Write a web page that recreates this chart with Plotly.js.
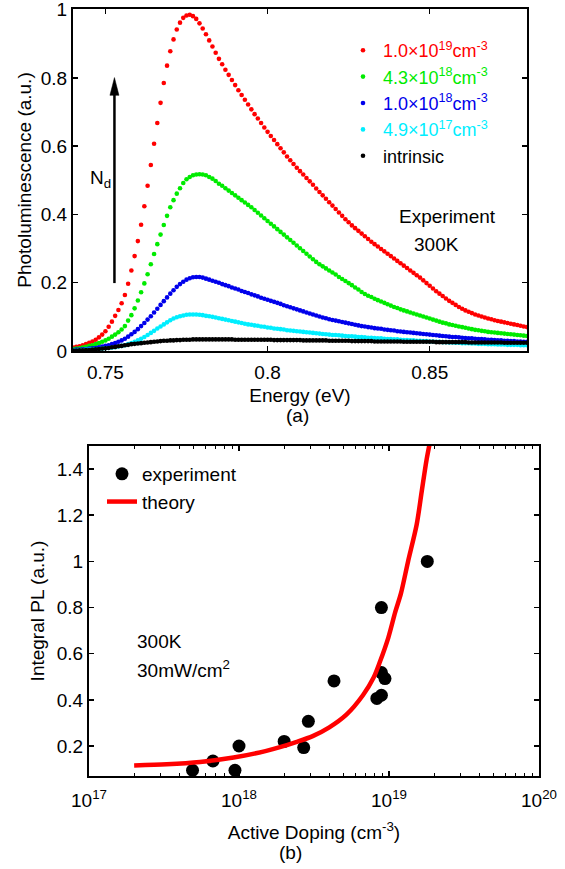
<!DOCTYPE html>
<html>
<head>
<meta charset="utf-8">
<script src="https://cdn.plot.ly/plotly-3.0.1.min.js"></script>
<style>html,body{margin:0;padding:0;background:#fff;}#chart{width:565px;height:869px;}</style>
</head>
<body>
<div id="chart"></div>
<script>
// ---------- Panel (a): PL spectra ----------
const energy = [
0.740,0.741,0.742,0.743,0.744,0.745,0.746,0.747,0.748,0.749,
0.750,0.751,0.752,0.753,0.754,0.755,0.756,0.757,0.758,0.759,
0.760,0.761,0.762,0.763,0.764,0.765,0.766,0.767,0.768,0.769,
0.770,0.771,0.772,0.773,0.774,0.775,0.776,0.777,0.778,0.779,
0.780,0.781,0.782,0.783,0.784,0.785,0.786,0.787,0.788,0.789,
0.790,0.791,0.792,0.793,0.794,0.795,0.796,0.797,0.798,0.799,
0.800,0.801,0.802,0.803,0.804,0.805,0.806,0.807,0.808,0.809,
0.810,0.811,0.812,0.813,0.814,0.815,0.816,0.817,0.818,0.819,
0.820,0.821,0.822,0.823,0.824,0.825,0.826,0.827,0.828,0.829,
0.830,0.831,0.832,0.833,0.834,0.835,0.836,0.837,0.838,0.839,
0.840,0.841,0.842,0.843,0.844,0.845,0.846,0.847,0.848,0.849,
0.850,0.851,0.852,0.853,0.854,0.855,0.856,0.857,0.858,0.859,
0.860,0.861,0.862,0.863,0.864,0.865,0.866,0.867,0.868,0.869,
0.870,0.871,0.872,0.873,0.874,0.875,0.876,0.877,0.878,0.879,
0.880];

const pl_1e19 = [
0.010,0.012,0.014,0.017,0.020,0.024,0.028,0.033,0.040,0.048,
0.058,0.071,0.086,0.103,0.120,0.140,0.164,0.197,0.236,0.278,
0.322,0.370,0.424,0.484,0.545,0.607,0.668,0.727,0.785,0.836,
0.878,0.913,0.942,0.962,0.976,0.983,0.985,0.981,0.973,0.960,
0.945,0.928,0.910,0.892,0.874,0.856,0.840,0.824,0.809,0.794,
0.779,0.764,0.750,0.736,0.722,0.708,0.694,0.681,0.668,0.655,
0.642,0.630,0.618,0.606,0.594,0.582,0.570,0.559,0.548,0.537,
0.527,0.517,0.507,0.497,0.487,0.476,0.466,0.456,0.446,0.436,
0.426,0.416,0.406,0.396,0.386,0.377,0.368,0.360,0.352,0.344,
0.336,0.328,0.320,0.313,0.306,0.299,0.292,0.285,0.278,0.271,
0.264,0.257,0.250,0.243,0.236,0.229,0.222,0.215,0.207,0.199,
0.191,0.183,0.175,0.168,0.161,0.154,0.147,0.141,0.135,0.129,
0.124,0.119,0.115,0.111,0.107,0.104,0.101,0.098,0.095,0.093,
0.090,0.088,0.086,0.084,0.082,0.080,0.078,0.076,0.074,0.072,
0.070];

const pl_4p3e18 = [
0.006,0.007,0.008,0.010,0.012,0.015,0.017,0.020,0.023,0.027,
0.031,0.036,0.042,0.048,0.055,0.063,0.073,0.089,0.105,0.125,
0.148,0.172,0.198,0.225,0.254,0.284,0.313,0.341,0.369,0.396,
0.421,0.442,0.461,0.477,0.492,0.503,0.510,0.515,0.517,0.518,
0.517,0.515,0.510,0.505,0.498,0.490,0.484,0.477,0.470,0.463,
0.456,0.449,0.442,0.435,0.428,0.421,0.413,0.405,0.397,0.389,
0.381,0.373,0.365,0.357,0.349,0.341,0.333,0.325,0.317,0.309,
0.301,0.293,0.285,0.277,0.269,0.261,0.254,0.248,0.242,0.236,
0.230,0.224,0.217,0.211,0.205,0.199,0.193,0.186,0.180,0.173,
0.167,0.162,0.158,0.153,0.149,0.145,0.141,0.137,0.133,0.129,
0.126,0.122,0.119,0.116,0.113,0.110,0.107,0.104,0.101,0.098,
0.095,0.092,0.089,0.086,0.083,0.081,0.078,0.076,0.074,0.072,
0.070,0.068,0.066,0.064,0.062,0.061,0.059,0.058,0.056,0.055,
0.054,0.053,0.052,0.051,0.050,0.049,0.048,0.047,0.046,0.045,
0.044];

const pl_1e18 = [
0.003,0.004,0.004,0.005,0.006,0.007,0.008,0.009,0.011,0.013,
0.015,0.017,0.020,0.023,0.027,0.031,0.036,0.042,0.049,0.056,
0.064,0.073,0.082,0.092,0.102,0.113,0.124,0.135,0.146,0.157,
0.168,0.178,0.188,0.196,0.203,0.209,0.213,0.216,0.217,0.217,
0.215,0.212,0.209,0.206,0.203,0.200,0.196,0.193,0.190,0.186,
0.183,0.180,0.176,0.173,0.170,0.166,0.163,0.160,0.156,0.153,
0.150,0.147,0.144,0.141,0.138,0.134,0.131,0.128,0.125,0.122,
0.119,0.116,0.113,0.110,0.107,0.104,0.101,0.098,0.096,0.093,
0.091,0.089,0.087,0.085,0.083,0.081,0.079,0.077,0.075,0.073,
0.072,0.070,0.069,0.067,0.066,0.065,0.063,0.062,0.061,0.060,
0.058,0.057,0.056,0.055,0.054,0.053,0.052,0.051,0.050,0.049,
0.048,0.047,0.046,0.045,0.044,0.043,0.042,0.041,0.041,0.040,
0.039,0.038,0.037,0.037,0.036,0.035,0.035,0.034,0.033,0.033,
0.032,0.031,0.031,0.030,0.030,0.029,0.029,0.028,0.028,0.027,
0.027];

const pl_4p9e17 = [
0.002,0.002,0.003,0.003,0.004,0.004,0.005,0.005,0.006,0.007,
0.008,0.009,0.010,0.011,0.013,0.015,0.017,0.020,0.023,0.027,
0.031,0.036,0.041,0.047,0.053,0.059,0.066,0.072,0.078,0.084,
0.090,0.095,0.099,0.102,0.104,0.106,0.107,0.107,0.107,0.106,
0.105,0.103,0.102,0.100,0.098,0.096,0.094,0.092,0.090,0.088,
0.086,0.084,0.082,0.080,0.078,0.077,0.075,0.074,0.072,0.071,
0.069,0.068,0.066,0.065,0.064,0.063,0.061,0.060,0.059,0.058,
0.057,0.056,0.055,0.054,0.053,0.052,0.051,0.050,0.049,0.048,
0.047,0.047,0.046,0.045,0.044,0.043,0.043,0.042,0.041,0.041,
0.040,0.039,0.039,0.038,0.037,0.037,0.036,0.035,0.035,0.034,
0.034,0.033,0.032,0.032,0.031,0.031,0.030,0.030,0.029,0.029,
0.028,0.028,0.027,0.027,0.026,0.026,0.025,0.025,0.024,0.024,
0.023,0.023,0.023,0.022,0.022,0.021,0.021,0.021,0.020,0.020,
0.020,0.019,0.019,0.019,0.018,0.018,0.018,0.018,0.017,0.017,
0.017];

const pl_intrinsic = [
0.001,0.001,0.002,0.002,0.003,0.003,0.004,0.005,0.006,0.007,
0.008,0.009,0.011,0.012,0.014,0.015,0.017,0.018,0.020,0.021,
0.022,0.023,0.024,0.025,0.026,0.027,0.028,0.029,0.030,0.030,
0.031,0.031,0.032,0.032,0.033,0.033,0.033,0.034,0.034,0.034,
0.034,0.034,0.034,0.034,0.034,0.034,0.034,0.034,0.034,0.034,
0.033,0.033,0.033,0.033,0.033,0.033,0.033,0.033,0.033,0.033,
0.033,0.033,0.032,0.032,0.032,0.032,0.032,0.032,0.032,0.032,
0.032,0.031,0.031,0.031,0.031,0.031,0.031,0.031,0.031,0.030,
0.030,0.030,0.030,0.030,0.030,0.030,0.029,0.029,0.029,0.029,
0.029,0.029,0.029,0.028,0.028,0.028,0.028,0.028,0.028,0.028,
0.028,0.028,0.027,0.027,0.027,0.027,0.027,0.027,0.027,0.027,
0.027,0.027,0.026,0.026,0.026,0.026,0.026,0.026,0.026,0.026,
0.026,0.026,0.025,0.025,0.025,0.025,0.025,0.025,0.025,0.025,
0.025,0.025,0.025,0.024,0.024,0.024,0.024,0.024,0.024,0.024,
0.024];

const seriesNames = [
  '1.0×10<sup>19</sup>cm<sup>-3</sup>',
  '4.3×10<sup>18</sup>cm<sup>-3</sup>',
  '1.0×10<sup>18</sup>cm<sup>-3</sup>',
  '4.9×10<sup>17</sup>cm<sup>-3</sup>',
  'intrinsic'
];
const seriesColors = ['rgb(255,0,0)','rgb(0,235,0)','rgb(0,0,235)','rgb(0,238,255)','rgb(0,0,0)'];
const seriesValues = [pl_1e19, pl_4p3e18, pl_1e18, pl_4p9e17, pl_intrinsic];

const energyTicks = [0.75, 0.8, 0.85];
const energyTickText = ['0.75', '0.8', '0.85'];
const plTicks = [0, 0.2, 0.4, 0.6, 0.8, 1];
const plTickText = ['0', '0.2', '0.4', '0.6', '0.8', '1'];

// ---------- Panel (b): integral PL vs doping ----------
const expDoping = [4.9e17, 6.7e17, 9.4e17, 1.0e18, 2.0e18, 2.7e18, 2.9e18, 4.3e18, 8.3e18, 8.9e18, 8.9e18, 9.4e18, 8.9e18, 1.8e19];
const expPL     = [0.095,  0.135,  0.095,  0.200,  0.220,  0.193,  0.307,  0.482,  0.406,  0.420,  0.518,  0.492,  0.800,  1.000];

const theoryDoping = [2.0e17, 3.3e17, 5.5e17, 9.2e17, 1.5e18, 1.9e18, 2.4e18, 3.1e18, 4.0e18, 5.2e18, 6.7e18, 7.9e18, 8.7e18, 9.9e18, 1.1e19, 1.2e19, 1.34e19, 1.53e19, 1.65e19, 1.78e19, 1.88e19];
const theoryPL     = [0.116,  0.121,  0.131,  0.150,  0.178,  0.196,  0.217,  0.243,  0.281,  0.336,  0.420,  0.497,  0.565,  0.670,  0.780,  0.860,  1.000,  1.160,  1.300,  1.440,  1.520];

const dopingTicks = [1e17, 1e18, 1e19, 1e20];
const dopingTickText = ['10<sup>17</sup>', '10<sup>18</sup>', '10<sup>19</sup>', '10<sup>20</sup>'];
const dopingMinorTicks = [2e17,3e17,4e17,5e17,6e17,7e17,8e17,9e17,2e18,3e18,4e18,5e18,6e18,7e18,8e18,9e18,2e19,3e19,4e19,5e19,6e19,7e19,8e19,9e19];
const intTicks = [0.2, 0.4, 0.6, 0.8, 1, 1.2, 1.4];
const intTickText = ['0.2', '0.4', '0.6', '0.8', '1', '1.2', '1.4'];

// ---------- build ----------
const W = 565, H = 869;
const px = v => v / W;
const py = v => 1 - v / H;
const FONT = 'Liberation Sans, Arial, Helvetica, sans-serif';

const traces = [];
seriesValues.forEach((vals, i) => {
  traces.push({
    type: 'scatter', mode: 'markers', x: energy, y: vals,
    xaxis: 'x', yaxis: 'y', legend: 'legend',
    name: '<span style="color:' + seriesColors[i] + '">' + seriesNames[i] + '</span>',
    marker: {size: 4.6, color: seriesColors[i]},
    cliponaxis: true
  });
});
traces.push({
  type: 'scatter', mode: 'markers', x: expDoping, y: expPL,
  xaxis: 'x2', yaxis: 'y2', legend: 'legend2', name: 'experiment',
  marker: {size: 13, color: 'black'}
});
traces.push({
  type: 'scatter', mode: 'lines', x: theoryDoping, y: theoryPL,
  xaxis: 'x2', yaxis: 'y2', legend: 'legend2', name: 'theory',
  line: {color: 'rgb(255,0,0)', width: 4.5, shape: 'spline', smoothing: 0.8}
});

const axisCommon = {
  showline: true, linecolor: 'black', linewidth: 2, mirror: 'ticks',
  ticks: 'inside', ticklen: 5, tickwidth: 1.5, tickcolor: 'black',
  showgrid: false, zeroline: false, automargin: false,
  ticklabeloverflow: 'allow',
  tickfont: {family: FONT, size: 19, color: 'black'}
};

const layout = {
  width: W, height: H,
  margin: {l: 0, r: 0, t: 0, b: 0},
  paper_bgcolor: 'white', plot_bgcolor: 'white',
  font: {family: FONT, size: 19, color: 'black'},
  xaxis: Object.assign({}, axisCommon, {
    domain: [px(73), px(527)], anchor: 'y', range: [0.74, 0.88],
    tickmode: 'array', tickvals: energyTicks, ticktext: energyTickText,
    ticklabelstandoff: 3,
    title: {text: 'Energy (eV)', font: {family: FONT, size: 19}, standoff: 7}
  }),
  yaxis: Object.assign({}, axisCommon, {
    domain: [py(351), py(9)], anchor: 'x', range: [0, 1.002],
    tickmode: 'array', tickvals: plTicks, ticktext: plTickText,
    title: {text: 'Photoluminescence (a.u.)', font: {family: FONT, size: 19}, standoff: 4}
  }),
  xaxis2: Object.assign({}, axisCommon, {
    domain: [px(89), px(539)], anchor: 'y2', type: 'log', range: [17, 20],
    tickmode: 'array', tickvals: dopingTicks, ticktext: dopingTickText,
    ticklabelstandoff: 6,
    minor: {ticks: 'inside', ticklen: 3, tickwidth: 1, tickcolor: 'black',
            tickmode: 'array', tickvals: dopingMinorTicks, showgrid: false},
    title: {text: 'Active Doping (cm<sup>-3</sup>)', font: {family: FONT, size: 19}, standoff: 16}
  }),
  yaxis2: Object.assign({}, axisCommon, {
    domain: [py(776), py(446)], anchor: 'x2', range: [0.07, 1.5],
    tickmode: 'array', tickvals: intTicks, ticktext: intTickText,
    title: {text: 'Integral PL (a.u.)', font: {family: FONT, size: 19}, standoff: 7}
  }),
  showlegend: true,
  legend: {
    x: px(343), y: py(32), xanchor: 'left', yanchor: 'top',
    bgcolor: 'rgba(0,0,0,0)', borderwidth: 0,
    font: {family: FONT, size: 18}, tracegroupgap: 0
  },
  legend2: {
    x: px(102), y: py(455), xanchor: 'left', yanchor: 'top',
    bgcolor: 'rgba(0,0,0,0)', borderwidth: 0,
    font: {family: FONT, size: 19}
  },
  shapes: [
    {type: 'line', xref: 'x', yref: 'y', x0: 0.75278, x1: 0.75278, y0: 0.199, y1: 0.76,
     line: {color: 'black', width: 2.5}},
    {type: 'path', xref: 'x', yref: 'y',
     path: 'M 0.75139 0.749 L 0.75278 0.801 L 0.75417 0.749 Z',
     fillcolor: 'black', line: {color: 'black', width: 0.5}}
  ],
  annotations: [
    {xref: 'paper', yref: 'paper', x: px(100), y: py(179), xanchor: 'center', yanchor: 'middle',
     text: 'N<sub>d</sub>', showarrow: false, font: {family: FONT, size: 19}},
    {xref: 'paper', yref: 'paper', x: px(447), y: py(217), xanchor: 'center', yanchor: 'middle',
     text: 'Experiment', showarrow: false, font: {family: FONT, size: 19}},
    {xref: 'paper', yref: 'paper', x: px(436), y: py(244), xanchor: 'center', yanchor: 'middle',
     text: '300K', showarrow: false, font: {family: FONT, size: 19}},
    {xref: 'paper', yref: 'paper', x: px(297), y: py(415), xanchor: 'center', yanchor: 'middle',
     text: '(a)', showarrow: false, font: {family: FONT, size: 19}},
    {xref: 'paper', yref: 'paper', x: px(135), y: py(641), xanchor: 'left', yanchor: 'middle',
     text: '300K', showarrow: false, font: {family: FONT, size: 19}},
    {xref: 'paper', yref: 'paper', x: px(135), y: py(669), xanchor: 'left', yanchor: 'middle',
     text: '30mW/cm<sup>2</sup>', showarrow: false, font: {family: FONT, size: 19}},
    {xref: 'paper', yref: 'paper', x: px(290), y: py(852), xanchor: 'center', yanchor: 'middle',
     text: '(b)', showarrow: false, font: {family: FONT, size: 19}}
  ]
};

Plotly.newPlot('chart', traces, layout, {staticPlot: true, displayModeBar: false});
</script>
</body>
</html>
